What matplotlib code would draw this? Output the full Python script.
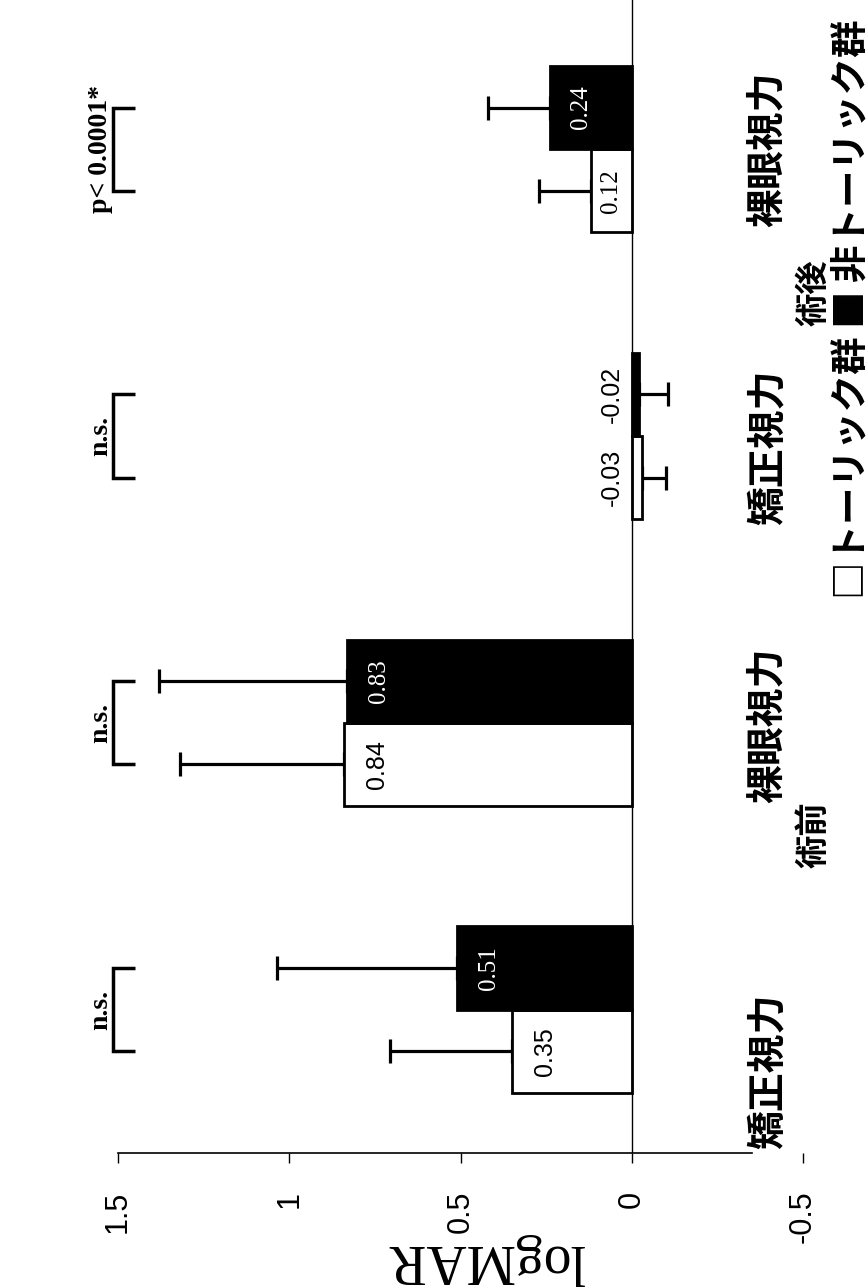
import matplotlib
matplotlib.use("Agg")
import matplotlib.pyplot as plt
import numpy as np

# ---- data ----
categories = ['矯正視力', '裸眼視力', '矯正視力', '裸眼視力']
groups = ['術前', '術後']
toric = [0.35, 0.84, -0.03, 0.12]
toric_sd = [0.355, 0.48, 0.07, 0.15]
nontoric = [0.51, 0.83, -0.02, 0.24]
nontoric_sd = [0.525, 0.55, 0.085, 0.18]
sig_labels = ['n.s.', 'n.s.', 'n.s.', 'p< 0.0001*']
value_ticks = [1.5, 1, 0.5, 0, -0.5]
value_tick_labels = ['1.5', '1', '0.5', '0', '-0.5']
legend_text = '□トーリック群 ■ 非トーリック群'
axis_label = 'logMAR'

# ---- layout ----
W, H = 868, 1288
CJK = ['Noto Sans CJK JP', 'DejaVu Sans']
SANS = ['Liberation Sans', 'DejaVu Sans']
SERIF = ['Liberation Serif', 'DejaVu Serif']

fig = plt.figure(figsize=(W / 100, H / 100), dpi=100)
ax = fig.add_axes([118 / W, (H - 1153) / H, (803 - 118) / W, 1153 / H])
ax.set_xlim(1.5, -0.5)
ax.set_ylim(-0.5, 3.52)

pos = np.arange(len(categories))
bw = 0.29
y_white = pos - bw / 2
y_black = pos + bw / 2

ax.barh(y_white, toric, height=bw, color='white', edgecolor='black', linewidth=2, zorder=3)
ax.barh(y_black, nontoric, height=bw, color='black', edgecolor='black', linewidth=2, zorder=3)


def err_parts(vals, sds):
    lo = [s if v < 0 else 0 for v, s in zip(vals, sds)]
    hi = [0 if v < 0 else s for v, s in zip(vals, sds)]
    return [lo, hi]


ax.errorbar(toric, y_white, xerr=err_parts(toric, toric_sd), fmt='none', ecolor='black',
            elinewidth=2.3, capsize=8.6, capthick=2.3, zorder=2)
ax.errorbar(nontoric, y_black, xerr=err_parts(nontoric, nontoric_sd), fmt='none', ecolor='black',
            elinewidth=2.3, capsize=8.6, capthick=2.3, zorder=2)

ax.axvline(0, color='black', lw=1, zorder=4)


def label_bar(v, y, color, fam):
    txt = f'{v:.2f}'
    if abs(v) < 0.06:
        ax.annotate(txt, xy=(0, y), xytext=(-6, 0), textcoords='offset points',
                    rotation=90, ha='right', va='center', fontsize=18, color='black',
                    family=SANS, zorder=5)
    elif v < 0.2:
        ax.annotate(txt, xy=(v / 2, y), rotation=90, ha='center', va='center',
                    fontsize=18, color=color, family=fam, zorder=5)
    else:
        ax.annotate(txt, xy=(v, y), xytext=(15, 0), textcoords='offset points',
                    rotation=90, ha='left', va='center', fontsize=18, color=color,
                    family=fam, zorder=5)


for v, y in zip(toric, y_white):
    label_bar(v, y, 'black', SERIF if v < 0.2 else SANS)
for v, y in zip(nontoric, y_black):
    label_bar(v, y, 'white', SERIF)

for s in ['top', 'right', 'left']:
    ax.spines[s].set_visible(False)
ax.spines['bottom'].set_bounds(-0.35, 1.5)
ax.spines['bottom'].set_linewidth(1.2)
ax.set_yticks([])
ax.set_xticks(value_ticks)
ax.set_xticklabels(value_tick_labels, rotation=90, fontsize=22, family=SANS, va='top', ha='center')
ax.tick_params(axis='x', direction='out', length=7, width=1, pad=20)

cat_label_y = [-0.216, 0.993, 1.96, 3.0]
for lab, y in zip(categories, cat_label_y):
    ax.text(-0.397, y, lab, rotation=90, ha='center', va='center', fontsize=28,
            fontweight='bold', family=CJK)
group_label_y = [0.61, 2.50]
for lab, y in zip(groups, group_label_y):
    ax.text(-0.532, y, lab, rotation=90, ha='center', va='center', fontsize=24,
            fontweight='bold', family=CJK, clip_on=False)

ax.text(-0.640, 1.43, legend_text, rotation=90, ha='center', va='bottom', fontsize=27,
        fontweight='bold', family=CJK, clip_on=False)

for p, lab in zip(pos, sig_labels):
    yt, yb = p + bw / 2, p - bw / 2
    ax.plot([1.449, 1.516, 1.516, 1.449], [yt, yt, yb, yb], color='black', lw=2.5,
            clip_on=False, solid_capstyle='butt', solid_joinstyle='miter')
    ax.text(1.55, p, lab, rotation=90, ha='center', va='center', fontsize=20,
            fontweight='bold', family=SERIF, clip_on=False)

fig.text(485 / W, 1 - 1259 / H, axis_label, rotation=180, ha='center', va='center',
         fontsize=40, family=SERIF)

fig.savefig('out.png', dpi=100)
